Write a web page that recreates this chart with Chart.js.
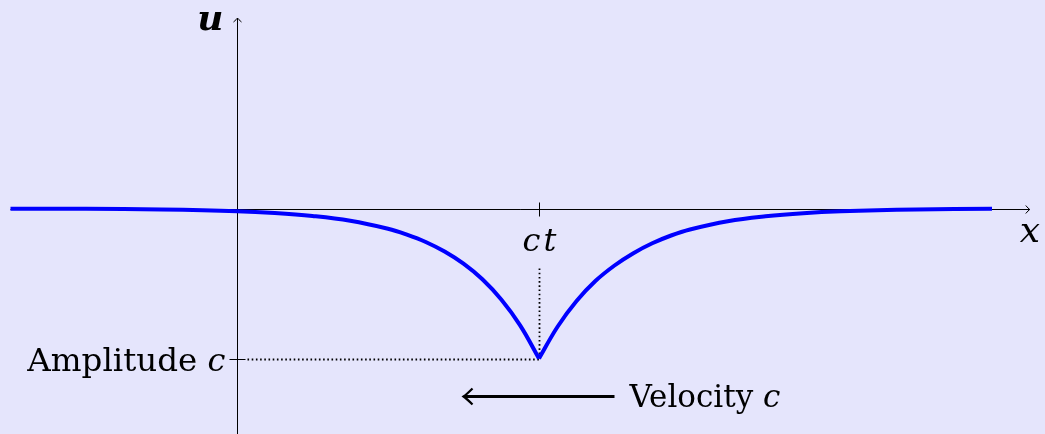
<!DOCTYPE html>
<html>
<head>
<meta charset="utf-8">
<script src="https://cdn.jsdelivr.net/npm/chart.js@4/dist/chart.umd.min.js"></script>
<style>
  html, body { margin: 0; padding: 0; background: #e5e5fc; }
  #wrap { width: 1045px; height: 434px; position: relative; }
</style>
</head>
<body>
<div id="wrap"><canvas id="c"></canvas></div>
<script>
// Peakon profile u(x) at a fixed time t; the trough sits at x = ct
const ctPos = 4;
const amplitude = 1;

// left branch, x <= ct
const xLeft = [-3.0, -2.0, -1.0, 0.0, 0.5, 1.0, 1.5, 2.0, 2.25, 2.5, 2.75, 3.0, 3.25, 3.5, 3.75, 4.0];
const uLeft = [-0.001, -0.002, -0.007, -0.018, -0.030, -0.050, -0.082, -0.135, -0.174, -0.223, -0.287, -0.368, -0.472, -0.607, -0.779, -1.0];

// right branch, x >= ct
const xRight = [4.0, 4.25, 4.5, 4.75, 5.0, 5.25, 5.5, 5.75, 6.0, 6.5, 7.0, 7.5, 8.0, 9.0, 10.0];
const uRight = [-1.0, -0.785, -0.615, -0.482, -0.380, -0.298, -0.232, -0.180, -0.140, -0.085, -0.052, -0.031, -0.019, -0.007, -0.002];

// axis labels and markers
const axisLabelX = 'x';
const axisLabelU = 'u';
const tickLabelCt = ['c', 't'];
const amplitudeText = 'Amplitude ';
const velocityText = 'Velocity ';
const speedSymbol = 'c';

const toPts = (xs, ys) => xs.map((x, i) => ({ x: x, y: ys[i] }));

const serif = '"DejaVu Serif", serif';

const decor = {
  id: 'decor',
  beforeDatasetsDraw(chart) {
    const { ctx, scales } = chart;
    const X = v => scales.x.getPixelForValue(v);
    const Y = v => scales.y.getPixelForValue(v);
    ctx.save();
    ctx.strokeStyle = '#000';
    ctx.fillStyle = '#000';
    ctx.lineWidth = 1;

    // x axis
    const x0 = X(-3.0), x1 = X(10.5), y0 = Math.round(Y(0)) + 0.5;
    ctx.beginPath(); ctx.moveTo(x0, y0); ctx.lineTo(x1, y0); ctx.stroke();
    ctx.beginPath(); ctx.moveTo(x1 - 4, y0 - 4); ctx.quadraticCurveTo(x1 - 1.5, y0 - 1, x1, y0);
    ctx.quadraticCurveTo(x1 - 1.5, y0 + 1, x1 - 4, y0 + 4); ctx.stroke();

    // u axis
    const xa = Math.round(X(0)) + 0.5, yb = Y(-1.51), yt = Y(1.27);
    ctx.beginPath(); ctx.moveTo(xa, yb); ctx.lineTo(xa, yt); ctx.stroke();
    ctx.beginPath(); ctx.moveTo(xa - 4, yt + 4); ctx.quadraticCurveTo(xa - 1, yt + 1.5, xa, yt);
    ctx.quadraticCurveTo(xa + 1, yt + 1.5, xa + 4, yt + 4); ctx.stroke();

    // tick at ct on the x axis
    const xc = Math.round(X(ctPos)) + 0.5;
    ctx.beginPath(); ctx.moveTo(xc, y0 - 7); ctx.lineTo(xc, y0 + 7); ctx.stroke();

    // tick at -amplitude on the u axis
    const ym = Math.round(Y(-amplitude)) + 0.5;
    ctx.beginPath(); ctx.moveTo(xa - 8, ym); ctx.lineTo(xa + 8, ym); ctx.stroke();

    // dotted guides to the trough
    ctx.setLineDash([1.6, 2.6]);
    ctx.lineWidth = 1.8;
    ctx.beginPath(); ctx.moveTo(xa + 10, ym); ctx.lineTo(xc, ym); ctx.stroke();
    ctx.beginPath(); ctx.moveTo(xc, Y(-0.4)); ctx.lineTo(xc, ym); ctx.stroke();
    ctx.setLineDash([]);

    // labels
    ctx.textBaseline = 'alphabetic';
    ctx.font = 'italic bold 36px ' + serif;
    ctx.textAlign = 'right';
    ctx.fillText(axisLabelU, xa - 14, 30);
    ctx.font = 'italic 36px ' + serif;
    ctx.textAlign = 'left';
    ctx.fillText(axisLabelX, X(10.5) - 10, 242);

    // ct label, centred below the tick
    ctx.font = 'italic 32px ' + serif;
    const wc = ctx.measureText(tickLabelCt[0]).width;
    const wt = ctx.measureText(tickLabelCt[1]).width;
    const gap = 3;
    let sx = xc - (wc + gap + wt) / 2;
    ctx.fillText(tickLabelCt[0], sx, 251);
    ctx.fillText(tickLabelCt[1], sx + wc + gap, 251);

    // amplitude label, right aligned to the tick
    ctx.font = 'italic 32px ' + serif;
    const wAc = ctx.measureText(speedSymbol).width;
    ctx.fillText(speedSymbol, xa - 12 - wAc, ym + 11);
    ctx.font = '32.5px ' + serif;
    ctx.textAlign = 'right';
    ctx.fillText(amplitudeText, xa - 12 - wAc, ym + 11);

    // velocity arrow pointing left
    ctx.textAlign = 'left';
    const ay = 396.5, ax0 = X(3.0), ax1 = X(5.0);
    ctx.lineWidth = 3;
    ctx.beginPath(); ctx.moveTo(ax1, ay); ctx.lineTo(ax0 + 1, ay); ctx.stroke();
    ctx.lineWidth = 2.2;
    ctx.beginPath(); ctx.moveTo(ax0 + 9, ay - 8); ctx.quadraticCurveTo(ax0 + 3, ay - 2, ax0, ay);
    ctx.quadraticCurveTo(ax0 + 3, ay + 2, ax0 + 9, ay + 8); ctx.stroke();

    ctx.font = '31px ' + serif;
    const tx = ax1 + 15;
    ctx.fillText(velocityText, tx, 407);
    const wv = ctx.measureText(velocityText).width;
    ctx.font = 'italic 31px ' + serif;
    ctx.fillText(speedSymbol, tx + wv, 407);
    ctx.restore();
  }
};

new Chart(document.getElementById('c'), {
  type: 'scatter',
  data: {
    datasets: [
      { data: toPts(xLeft, uLeft) },
      { data: toPts(xRight, uRight) }
    ]
  },
  options: {
    responsive: true,
    maintainAspectRatio: false,
    animation: false,
    showLine: true,
    layout: { padding: 0 },
    elements: {
      point: { radius: 0 },
      line: { borderColor: '#0000ff', borderWidth: 4, tension: 0.4, fill: false, borderCapStyle: 'butt', borderJoinStyle: 'miter' }
    },
    plugins: { legend: { display: false }, tooltip: { enabled: false } },
    scales: {
      x: { type: 'linear', display: false, min: -237 / 75.5, max: (1045 - 237) / 75.5 },
      y: { type: 'linear', display: false, min: -225.5 / 150, max: 208.5 / 150 }
    }
  },
  plugins: [decor]
});
</script>
</body>
</html>
